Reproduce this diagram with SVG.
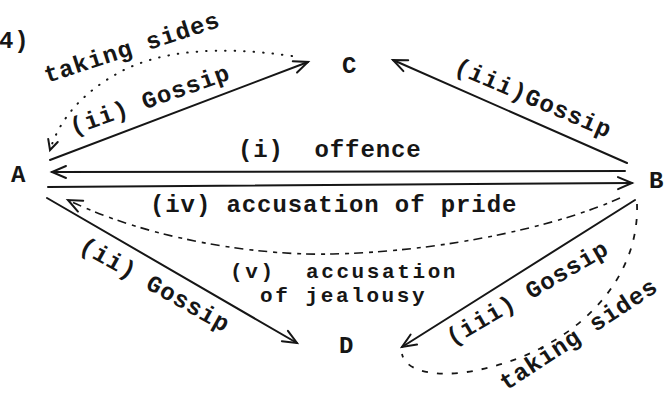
<svg xmlns="http://www.w3.org/2000/svg" width="667" height="398" viewBox="0 0 667 398">
<style>
text{font-family:"Liberation Mono","DejaVu Sans Mono",monospace;font-size:24px;font-weight:bold;letter-spacing:0.9px;fill:#161616;white-space:pre}
text.sm{font-size:21px;letter-spacing:2.6px}
.ln{fill:none;stroke:#161616;stroke-width:2;stroke-linecap:round}
.dot{fill:none;stroke:#161616;stroke-width:2;stroke-linecap:round;stroke-dasharray:0.5 9}
.dash{fill:none;stroke:#161616;stroke-width:1.6;stroke-dasharray:9 5 4 6}
.dash2{fill:none;stroke:#161616;stroke-width:1.8;stroke-dasharray:6 9}
</style>
<defs>
<marker id="ah" viewBox="-16 -10 20 20" refX="0" refY="0" markerWidth="20" markerHeight="20" markerUnits="userSpaceOnUse" orient="auto-start-reverse">
<path d="M -14 -6 L 0 0 L -14 6" fill="none" stroke="#161616" stroke-width="2" stroke-linecap="round"/>
</marker>
<marker id="ahs" viewBox="-12 -8 16 16" refX="0" refY="0" markerWidth="16" markerHeight="16" markerUnits="userSpaceOnUse" orient="auto">
<path d="M -10 -5 L 0 0 L -10 5" fill="none" stroke="#161616" stroke-width="2" stroke-linecap="round"/>
</marker>
</defs>
<text x="-1" y="48">4)</text>
<g id="A"><text x="11" y="182">A</text></g>
<g id="B"><text x="649" y="188">B</text></g>
<g id="C"><text x="342" y="73">C</text></g>
<g id="D"><text x="339" y="353">D</text></g>
<g id="connectors">
<line class="ln" x1="50" y1="160" x2="308" y2="62" marker-end="url(#ah)"/>
<line class="ln" x1="627" y1="163" x2="393" y2="60" marker-end="url(#ah)"/>
<line class="ln" x1="625" y1="171" x2="52" y2="172" marker-end="url(#ah)"/>
<line class="ln" x1="48" y1="187" x2="632" y2="183" marker-end="url(#ah)"/>
<line class="ln" x1="47" y1="198" x2="297" y2="343" marker-end="url(#ah)"/>
<line class="ln" x1="635" y1="200" x2="402" y2="347" marker-end="url(#ah)"/>
<path class="dash" d="M 620 198 C 560 225 450 251 333 254 C 260 256 150 240 68 200" marker-end="url(#ah)"/>
<path class="dot" d="M 292 56 Q 180 40 120 72 Q 65 102 50 150" marker-end="url(#ahs)"/>
<path class="dash2" d="M 637 204 C 640 290 560 360 460 373 C 425 376 405 368 402 354"/>
</g>
<g id="labels">
<text x="47" y="83" transform="rotate(-18 47 83)">taking sides</text>
<text x="73" y="135" transform="rotate(-19.5 73 135)">(ii) Gossip</text>
<text x="453" y="72" transform="rotate(23.2 453 72)">(iii)Gossip</text>
<text x="238" y="157">(i)  offence</text>
<text x="150" y="212">(iv) accusation of pride</text>
<text class="sm" x="230" y="278">(v)  accusation</text>
<text class="sm" x="260" y="302">of jealousy</text>
<text x="78" y="250" transform="rotate(29.5 78 250)">(ii) Gossip</text>
<text x="452" y="346" transform="rotate(-30.4 452 346)">(iii) Gossip</text>
<text x="506" y="391" transform="rotate(-33.3 506 391)">taking sides</text>
</g>
</svg>
